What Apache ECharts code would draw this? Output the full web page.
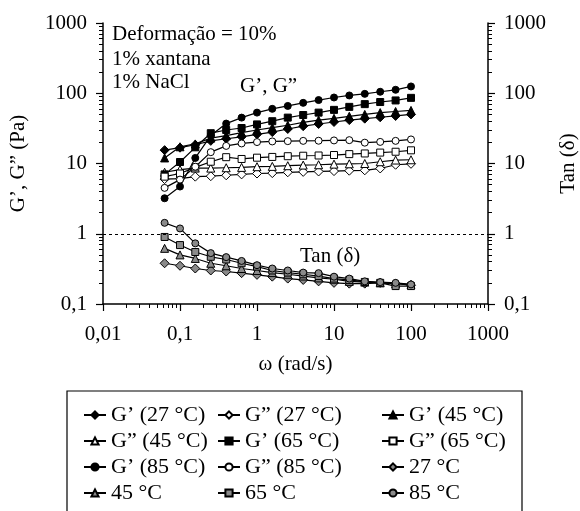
<!DOCTYPE html>
<html>
<head>
<meta charset="utf-8">
<script src="https://cdn.jsdelivr.net/npm/echarts@6/dist/echarts.min.js"></script>
<style>
  html, body { margin: 0; padding: 0; background: #fff; }
  #chart { width: 580px; height: 511px; }
</style>
</head>
<body>
<div id="chart"></div>
<script>
// Angular frequency (rad/s)
const omega = [0.0631, 0.1, 0.158, 0.251, 0.398, 0.631, 1, 1.58, 2.51, 3.98, 6.31, 10, 15.8, 25.1, 39.8, 63.1, 100];

// Storage modulus G' (Pa)
const gp27 = [15.5, 16.8, 18.5, 21, 22.5, 24, 26, 28, 31, 34, 36.5, 39, 41.5, 43.5, 45.5, 47.5, 50];
const gp45 = [12, 17.3, 19, 23, 25, 27.5, 30, 32.5, 35, 38.5, 41.5, 44, 47, 50, 53, 55, 57];
const gp65 = [7.0, 10.5, 17, 27, 30, 32, 36, 40, 45, 49, 53, 58, 64, 70, 75, 79, 86];
const gp85 = [3.2, 4.7, 12, 25, 37, 45, 53, 60, 66, 73, 80, 87, 93, 98, 105, 112, 125];

// Loss modulus G'' (Pa)
const gpp27 = [6.0, 6.1, 6.5, 6.6, 6.8, 7.0, 7.2, 7.3, 7.5, 7.6, 7.7, 7.8, 7.9, 8.0, 8.5, 9.6, 9.9];
const gpp45 = [7.5, 8.2, 8.6, 8.6, 8.7, 8.8, 9.0, 9.1, 9.3, 9.5, 9.6, 9.8, 9.9, 10.0, 10.6, 11.2, 11.3];
const gpp65 = [6.5, 7.2, 8.8, 10.6, 12.3, 11.6, 12.1, 12.4, 12.7, 12.9, 13.0, 13.2, 13.6, 13.9, 14.3, 14.7, 15.4];
const gpp85 = [4.5, 5.9, 9.0, 14.5, 17.8, 19.3, 20.2, 20.6, 20.8, 21.0, 21.1, 21.3, 21.5, 19.8, 20.3, 21.0, 22.0];

// Loss tangent tan(δ)
const tan27 = [0.38, 0.35, 0.32, 0.30, 0.29, 0.275, 0.26, 0.245, 0.23, 0.22, 0.21, 0.20, 0.195, 0.195, 0.20, 0.195, 0.185];
const tan45 = [0.62, 0.50, 0.445, 0.38, 0.35, 0.32, 0.30, 0.28, 0.265, 0.25, 0.235, 0.225, 0.21, 0.205, 0.20, 0.195, 0.19];
const tan65 = [0.90, 0.69, 0.55, 0.47, 0.43, 0.38, 0.34, 0.30, 0.28, 0.265, 0.25, 0.23, 0.22, 0.206, 0.20, 0.18, 0.18];
const tan85 = [1.43, 1.19, 0.73, 0.53, 0.465, 0.41, 0.357, 0.32, 0.30, 0.28, 0.275, 0.245, 0.23, 0.21, 0.205, 0.20, 0.19];

// Tick values of the log axes
const xTicks = [0.01, 0.1, 1, 10, 100, 1000];
const yTicks = [0.1, 1, 10, 100, 1000];

// Legend columns
const legendCol1 = ['G’ (27 °C)', 'G” (45 °C)', 'G’ (85 °C)', '45 °C'];
const legendCol2 = ['G” (27 °C)', 'G’ (65 °C)', 'G” (85 °C)', '65 °C'];
const legendCol3 = ['G’ (45 °C)', 'G” (65 °C)', '27 °C', '85 °C'];

const FONT = '"Liberation Serif", "DejaVu Serif", serif';
const INK = '#000';
const GREY = '#8a8a8a';

const pairs = arr => omega.map((w, i) => [w, arr[i]]);
const fmt = v => String(+(+v).toPrecision(6)).replace('.', ',');

function lineSeries(name, data, symbol, fill, size, yAxisIndex) {
  return {
    name: name,
    type: 'line',
    yAxisIndex: yAxisIndex || 0,
    data: pairs(data),
    symbol: symbol,
    symbolSize: size,
    showSymbol: true,
    z: 3,
    lineStyle: { color: INK, width: 1.2 },
    itemStyle: { color: fill, borderColor: INK, borderWidth: 1 },
    emphasis: { disabled: true },
    animation: false
  };
}

const tri = 'triangle';
const series = [
  lineSeries('G’ (27 °C)', gp27, 'diamond', INK, 9),
  lineSeries('G” (27 °C)', gpp27, 'diamond', '#fff', 9),
  lineSeries('G’ (45 °C)', gp45, tri, INK, 8),
  lineSeries('G” (45 °C)', gpp45, tri, '#fff', 8),
  lineSeries('G’ (65 °C)', gp65, 'rect', INK, 7),
  lineSeries('G” (65 °C)', gpp65, 'rect', '#fff', 7),
  lineSeries('G’ (85 °C)', gp85, 'circle', INK, 7),
  lineSeries('G” (85 °C)', gpp85, 'circle', '#fff', 7),
  lineSeries('27 °C', tan27, 'diamond', GREY, 9, 1),
  lineSeries('45 °C', tan45, tri, GREY, 8, 1),
  lineSeries('65 °C', tan65, 'rect', GREY, 7, 1),
  lineSeries('85 °C', tan85, 'circle', GREY, 7, 1)
];

// Dotted reference line at tan(δ) = 1
series[8].markLine = {
  silent: true,
  symbol: 'none',
  label: { show: false },
  lineStyle: { color: INK, type: [3, 3], width: 1.2 },
  data: [{ yAxis: 1 }],
  animation: false
};

const axisCommon = {
  type: 'log',
  logBase: 10,
  axisLine: { show: true, onZero: false, lineStyle: { color: INK, width: 1.5 } },
  axisTick: { show: true, inside: false, length: 7, lineStyle: { color: INK, width: 1.2 } },
  minorTick: { show: true, splitNumber: 9, length: 4, lineStyle: { color: INK, width: 1 } },
  splitLine: { show: false },
  minorSplitLine: { show: false },
  axisLabel: { color: INK, fontFamily: FONT, fontSize: 21, formatter: fmt },
  nameTextStyle: { color: INK, fontFamily: FONT, fontSize: 21 },
  nameLocation: 'middle'
};

function legendCol(names, left) {
  return {
    orient: 'vertical',
    left: left,
    top: 404,
    height: 140,
    padding: 0,
    itemGap: 4,
    itemWidth: 22,
    itemHeight: 9,
    selectedMode: false,
    data: names,
    textStyle: { color: INK, fontFamily: FONT, fontSize: 22, lineHeight: 16 }
  };
}

const chart = echarts.init(document.getElementById('chart'), null, { renderer: 'canvas' });
chart.setOption({
  backgroundColor: '#fff',
  animation: false,
  grid: {
    left: 103, right: 92, top: 23, bottom: 207,
    containLabel: false,
    outerBoundsMode: 'none'
  },
  xAxis: Object.assign({}, axisCommon, {
    min: xTicks[0],
    max: xTicks[xTicks.length - 1],
    name: 'ω (rad/s)',
    nameGap: 50,
    axisLabel: Object.assign({}, axisCommon.axisLabel, { margin: 20 })
  }),
  yAxis: [
    Object.assign({}, axisCommon, {
      position: 'left',
      min: yTicks[0],
      max: yTicks[yTicks.length - 1],
      name: 'G’, G” (Pa)',
      nameGap: 74,
      axisLabel: Object.assign({}, axisCommon.axisLabel, { margin: 16 })
    }),
    Object.assign({}, axisCommon, {
      position: 'right',
      min: yTicks[0],
      max: yTicks[yTicks.length - 1],
      name: 'Tan (δ)',
      nameGap: 70,
      axisLabel: Object.assign({}, axisCommon.axisLabel, { margin: 16 })
    })
  ],
  legend: [
    legendCol(legendCol1, 83),
    legendCol(legendCol2, 217),
    legendCol(legendCol3, 381)
  ],
  graphic: [
    {
      type: 'rect',
      silent: true,
      shape: { x: 67, y: 391, width: 455, height: 140 },
      style: { fill: 'none', stroke: INK, lineWidth: 1.2 }
    },
    {
      type: 'text', left: 112, top: 24, silent: true,
      style: { text: 'Deformação = 10%', fill: INK, font: '21px ' + FONT }
    },
    {
      type: 'text', left: 112, top: 49, silent: true,
      style: { text: '1% xantana', fill: INK, font: '21px ' + FONT }
    },
    {
      type: 'text', left: 112, top: 72, silent: true,
      style: { text: '1% NaCl', fill: INK, font: '21px ' + FONT }
    },
    {
      type: 'text', left: 240, top: 76, silent: true,
      style: { text: 'G’, G”', fill: INK, font: '21px ' + FONT }
    },
    {
      type: 'text', left: 300, top: 246, silent: true,
      style: { text: 'Tan (δ)', fill: INK, font: '21px ' + FONT }
    }
  ],
  series: series
});
</script>
</body>
</html>
